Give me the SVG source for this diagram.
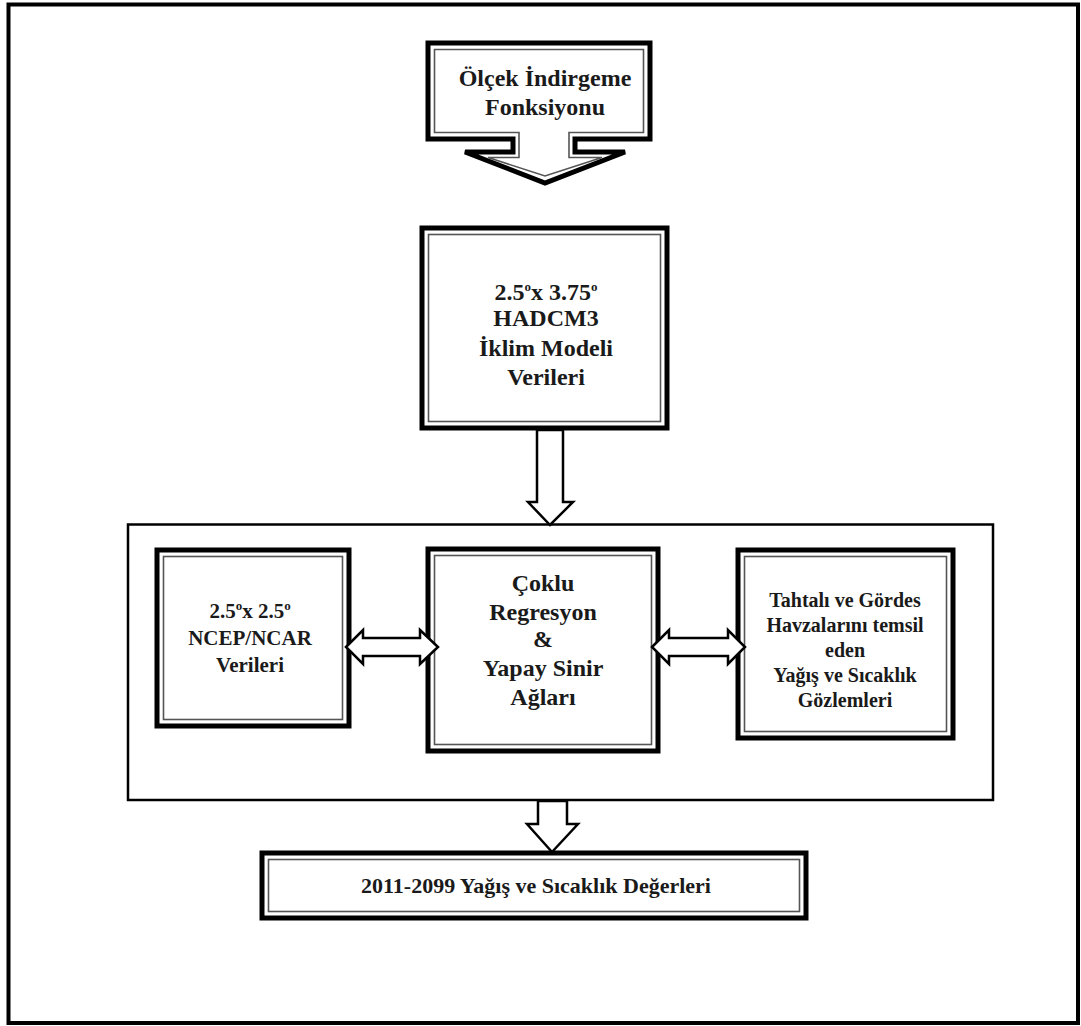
<svg xmlns="http://www.w3.org/2000/svg" width="1081" height="1026" viewBox="0 0 1081 1026">
  <style>
    .frame { fill: none; stroke: #000; stroke-width: 4; }
    .outer { fill: #fff; stroke: #000; stroke-width: 5; stroke-linejoin: miter; }
    .inner { fill: none; stroke: #555; stroke-width: 1.6; }
    .group { fill: none; stroke: #000; stroke-width: 2.5; }
    .block { fill: #fff; stroke: #000; stroke-width: 2.5; stroke-linejoin: miter; }
    text { font-family: "Liberation Serif", "Times New Roman", serif; font-weight: bold; fill: #1a1a1a; text-anchor: middle; }
    .t24 { font-size: 24px; }
    .t21 { font-size: 21px; }
    .t20 { font-size: 20px; }
    .t22 { font-size: 22px; }
    .sup { font-size: 13px; }
  </style>

  <!-- page frame -->
  <rect class="frame" x="8.5" y="4.5" width="1069.5" height="1018.5"/>

  <!-- top callout: downscaling function -->
  <g id="olcek-indirgeme">
    <path class="outer" d="M428,43 L650,43 L650,139 L575,139 L575,152 L625,152 L545,183 L465,152 L513,152 L513,139 L428,139 Z"/>
    <path class="inner" d="M434.5,49.5 L643.5,49.5 L643.5,132.5 L569,132.5 L569,157.5 L602,157.5 L545,176 L488,157.5 L519,157.5 L519,132.5 L434.5,132.5 Z"/>
    <text class="t24" x="545" y="86">Ölçek İndirgeme</text>
    <text class="t24" x="545" y="115">Fonksiyonu</text>
  </g>

  <!-- GCM data -->
  <g id="hadcm3">
    <rect class="outer" x="422" y="228" width="245" height="200"/>
    <rect class="inner" x="428.5" y="234.5" width="232" height="187"/>
    <text class="t24" x="546" y="300">2.5<tspan class="sup" dy="-9">o</tspan><tspan dy="9">x 3.75</tspan><tspan class="sup" dy="-9">o</tspan></text>
    <text class="t24" x="546" y="326">HADCM3</text>
    <text class="t24" x="546" y="356">İklim Modeli</text>
    <text class="t24" x="546" y="385">Verileri</text>
  </g>

  <!-- model group container -->
  <g id="model-grubu">
    <rect class="group" x="128" y="524.5" width="865" height="275.5"/>
  </g>

  <g id="ncep-ncar">
    <rect class="outer" x="157" y="550" width="192" height="176"/>
    <rect class="inner" x="163.5" y="556.5" width="179" height="163"/>
    <text class="t21" x="250" y="618">2.5<tspan class="sup" dy="-8">o</tspan><tspan dy="8">x 2.5</tspan><tspan class="sup" dy="-8">o</tspan></text>
    <text class="t21" x="250" y="645">NCEP/NCAR</text>
    <text class="t21" x="250" y="672">Verileri</text>
  </g>

  <g id="regresyon-ysa">
    <rect class="outer" x="428" y="549" width="230" height="202"/>
    <rect class="inner" x="434.5" y="555.5" width="217" height="189"/>
    <text class="t24" x="543" y="591">Çoklu</text>
    <text class="t24" x="543" y="620">Regresyon</text>
    <text class="t24" x="543" y="647">&amp;</text>
    <text class="t24" x="543" y="676">Yapay Sinir</text>
    <text class="t24" x="543" y="705">Ağları</text>
  </g>

  <g id="gozlemler">
    <rect class="outer" x="738" y="550" width="215" height="188"/>
    <rect class="inner" x="744.5" y="556.5" width="202" height="175"/>
    <text class="t20" x="845" y="607">Tahtalı ve Gördes</text>
    <text class="t20" x="845" y="632">Havzalarını temsil</text>
    <text class="t20" x="845" y="657">eden</text>
    <text class="t20" x="845" y="682">Yağış ve Sıcaklık</text>
    <text class="t20" x="845" y="707">Gözlemleri</text>
  </g>

  <g id="sonuc">
    <rect class="outer" x="262" y="853" width="544" height="65"/>
    <rect class="inner" x="268.5" y="859.5" width="531" height="52"/>
    <text class="t22" x="536" y="893">2011-2099 Yağış ve Sıcaklık Değerleri</text>
  </g>

  <!-- block-arrow connectors -->
  <g id="baglantilar">
    <path class="block" d="M537,430 L537,502 L528,502 L550,525 L573,502 L563,502 L563,430 Z"/>
    <path class="block" d="M346,647 L363,630 L363,638 L420,638 L420,630 L438,647 L420,664 L420,656 L363,656 L363,664 Z"/>
    <path class="block" d="M652,647 L669,630 L669,638 L728,638 L728,630 L745,647 L728,664 L728,656 L669,656 L669,664 Z"/>
    <path class="block" d="M538,801 L538,824 L527,824 L552,852 L578,824 L567,824 L567,801 Z"/>
  </g>
</svg>
